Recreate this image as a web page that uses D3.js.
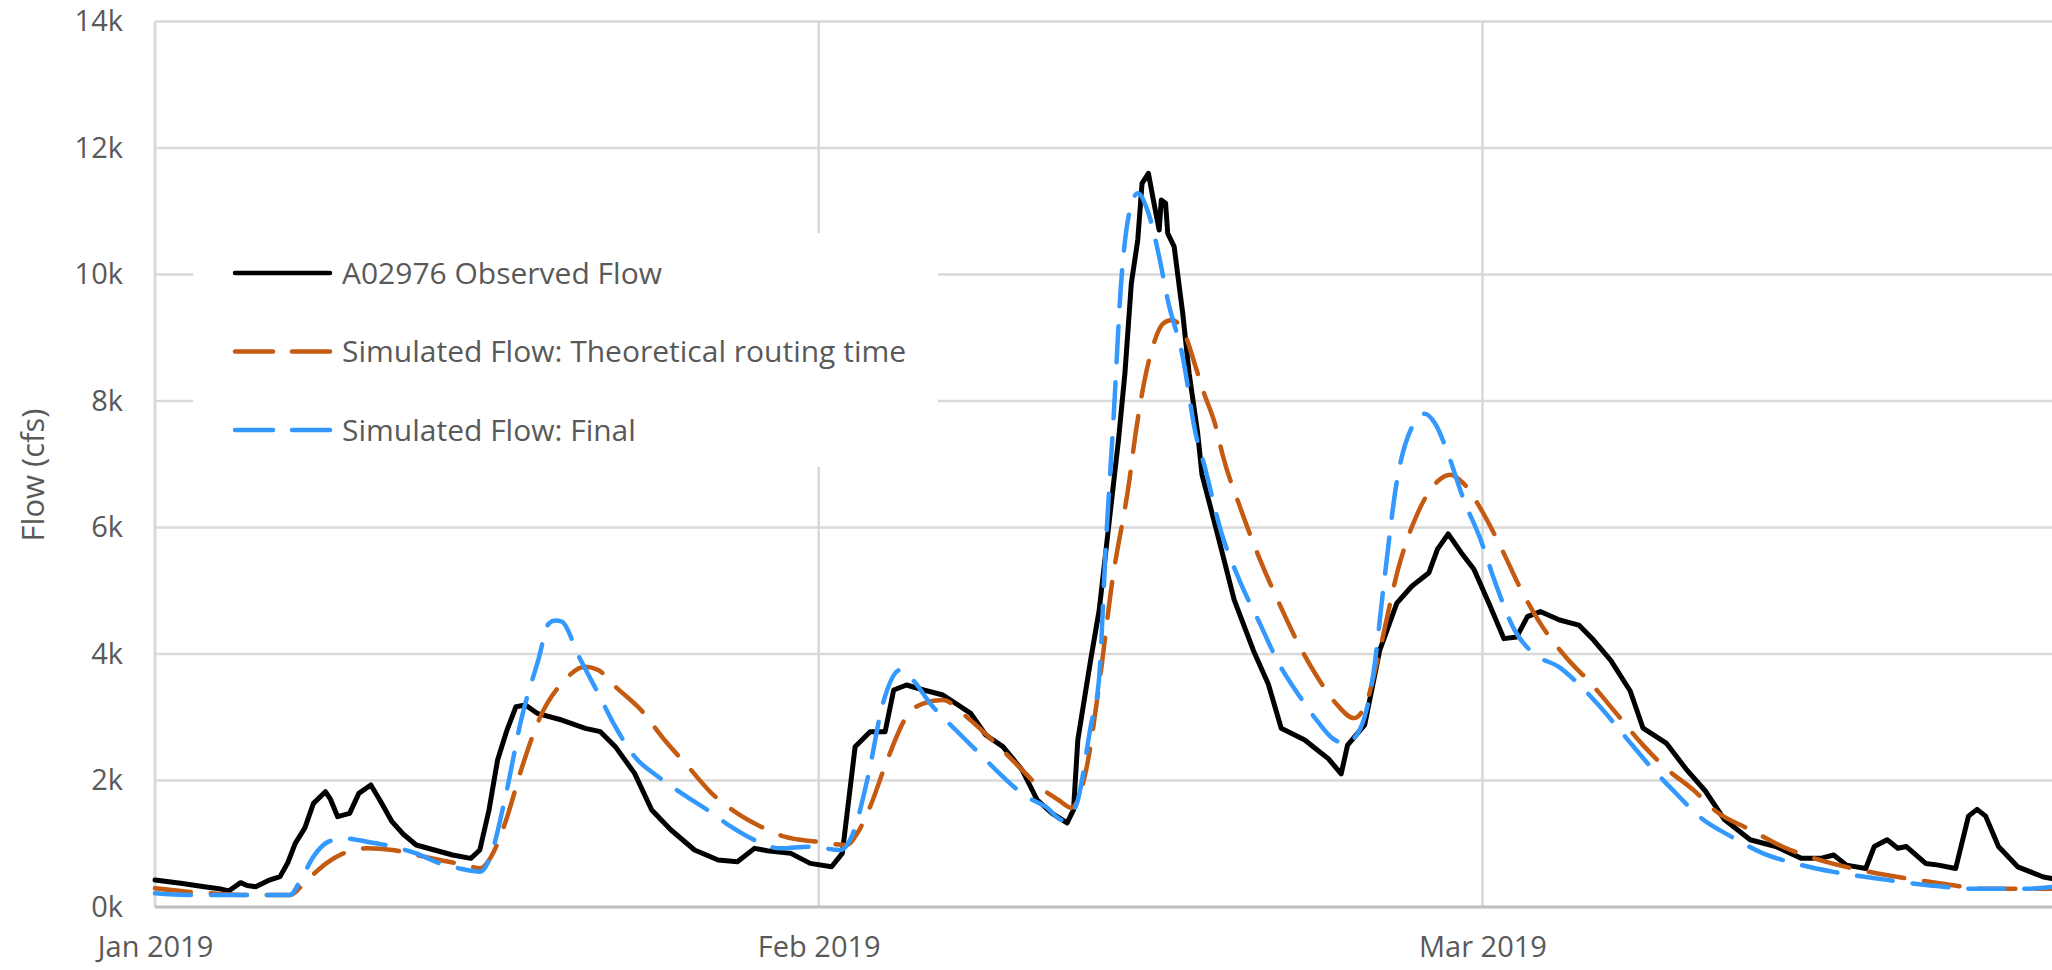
<!DOCTYPE html>
<html lang="en">
	<head>
		<meta charset="utf-8">
		<title>Observed vs simulated flow</title>
		<script type="text/javascript" src="https://cdn.jsdelivr.net/npm/d3@7"></script>
		<style type="text/css">
			body { margin: 0; background: #fff; }
			text { font-family: "Open Sans", "Noto Sans", sans-serif; fill: #595959; }
		</style>
	</head>
	<body>
		<script type="text/javascript">

		var w = 2052;
		var h = 970;

		//axis ticks
		var xTickDays = [0, 31, 62];
		var xTickLabels = ["Jan 2019", "Feb 2019", "Mar 2019"];
		var yTicks = [0, 2000, 4000, 6000, 8000, 10000, 12000, 14000];

		var seriesNames = ["A02976 Observed Flow", "Simulated Flow: Theoretical routing time", "Simulated Flow: Final"];

		//observed flow (days since Jan 1, cfs)
		var obsDays = [0, 1.2, 2.3, 3.0, 3.44, 4.0, 4.3, 4.7, 5.3, 5.84, 6.2, 6.55, 7.0, 7.4, 7.96, 8.2, 8.53, 9.09, 9.52, 10.08,
			10.5, 11.07, 11.6, 12.2, 13.05, 13.9, 14.75, 15.17, 15.6, 16.0, 16.44, 16.86, 17.3, 17.85, 19.0, 20.1, 20.8, 21.5, 22.4, 23.2,
			24.1, 25.2, 26.3, 27.2, 28.0, 28.6, 29.7, 30.6, 31.6, 32.1, 32.7, 33.4, 34.1, 34.5, 35.1, 35.9, 36.8, 38.1, 38.8, 39.6,
			40.5, 41.2, 41.9, 42.6, 42.9, 43.1, 43.7, 44.1, 44.6, 45.0, 45.3, 45.6, 45.9, 46.1, 46.4, 46.6, 46.9, 47.0, 47.2, 47.3,
			47.6, 47.9, 48.0, 48.3, 48.7, 48.9, 49.6, 50.4, 51.3, 52.0, 52.6, 53.7, 54.3, 54.8, 55.4, 55.7, 56.5, 57.2, 58.0, 58.7,
			59.5, 59.9, 60.4, 61.0, 61.6, 62.3, 63.0, 63.6, 64.1, 64.7, 65.6, 66.5, 67.2, 68.0, 68.9, 69.5, 70.6, 71.5, 72.4, 73.3,
			74.5, 75.7, 76.9, 77.8, 78.4, 79.0, 79.9, 80.3, 80.9, 81.4, 81.8, 82.7, 83.3, 84.1, 84.7, 85.1, 85.5, 86.1, 87.0, 88.2, 88.6];
		var obsFlow = [427, 374, 321, 290, 253, 385, 340, 321, 420, 480, 700, 1006, 1250, 1639, 1823, 1700, 1428, 1480, 1797, 1929,
			1692, 1349, 1150, 980, 901, 822, 769, 901, 1534, 2324, 2798, 3167, 3193, 3062, 2956, 2825, 2772, 2535, 2113, 1534,
			1217, 901, 743, 717, 927, 890, 848, 690, 637, 848, 2535, 2772, 2772, 3431, 3510, 3431, 3352, 3062, 2719, 2535,
			2166, 1692, 1480, 1330, 1534, 2640, 3905, 4696, 6194, 7383, 8437, 9860, 10545, 11441, 11599, 11230, 10703, 11177, 11125, 10650,
			10440, 9649, 9386, 8437, 7488, 6836, 5927, 4858, 4056, 3522, 2827, 2640, 2479, 2346, 2105, 2559, 2880, 4056, 4804, 5071,
			5285, 5659, 5900, 5606, 5339, 4804, 4243, 4270, 4590, 4671, 4537, 4457, 4216, 3896, 3415, 2827, 2586, 2185, 1838, 1383,
			1063, 956, 769, 769, 822, 662, 609, 956, 1063, 929, 956, 689, 662, 609, 1437, 1544, 1437, 956, 635, 475, 450];

		//simulated flow, theoretical routing time
		var theoDays = [0, 1.5, 2.6, 4.3, 6.3, 7.1, 8.0, 8.8, 9.9, 11.1, 12.2, 13.3, 14.5, 15.2, 15.7, 16.4, 17.1, 18.0, 19.0, 20.1,
			20.7, 21.5, 22.7, 23.8, 24.9, 26.0, 27.2, 28.3, 29.4, 30.9, 32.3, 32.8, 33.4, 34.2, 35.1, 35.9, 36.8, 37.9, 39.1, 40.2,
			41.3, 42.2, 42.8, 43.5, 44.1, 44.7, 45.5, 45.8, 46.1, 46.6, 47.1, 47.5, 48.0, 48.7, 49.0, 49.5, 49.9, 50.7, 51.6, 52.5,
			53.4, 54.3, 55.2, 56.0, 56.6, 57.2, 58.1, 59.0, 59.9, 60.5, 61.1, 62.0, 62.9, 63.8, 64.7, 65.9, 67.1, 68.3, 69.5, 70.6,
			71.8, 73.0, 74.5, 76.0, 77.5, 79.3, 81.4, 83.5, 85.5, 88.6];
		var theoFlow = [295, 242, 216, 190, 190, 427, 690, 848, 927, 901, 822, 743, 664, 611, 796, 1375, 2166, 3009, 3536, 3800,
			3747, 3483, 3114, 2640, 2219, 1797, 1480, 1270, 1112, 1033, 980, 1165, 1586, 2324, 3009, 3220, 3272, 3009, 2640, 2271,
			1902, 1692, 1570, 2185, 3522, 5125, 6728, 7488, 8118, 8859, 9228, 9280, 9122, 8437, 8118, 7647, 7103, 6301, 5499, 4804,
			4163, 3629, 3201, 2987, 3254, 4056, 5392, 6248, 6728, 6835, 6702, 6248, 5659, 5018, 4484, 3949, 3522, 3041, 2559, 2185,
			1865, 1490, 1223, 956, 769, 609, 475, 368, 288, 288];

		//simulated flow, final
		var finalDays = [0, 1.5, 4.0, 6.3, 6.8, 7.4, 8.1, 8.8, 9.9, 11.1, 12.2, 13.3, 14.2, 15.2, 15.6, 16.4, 17.1, 17.9, 18.4, 18.7,
			19.0, 19.8, 20.7, 21.5, 22.4, 23.5, 24.6, 25.8, 26.9, 28.0, 29.2, 30.6, 32.0, 32.6, 33.3, 34.0, 34.8, 35.4, 36.2, 37.4,
			38.5, 39.6, 40.7, 41.6, 42.4, 43.0, 43.7, 44.1, 44.4, 44.8, 45.1, 45.5, 45.9, 46.4, 46.9, 47.3, 48.0, 48.6, 49.0, 49.8,
			50.7, 51.6, 52.5, 53.4, 54.3, 55.0, 55.6, 56.3, 56.9, 57.4, 58.0, 58.7, 59.3, 59.8, 60.4, 61.1, 61.9, 62.6, 63.5, 64.4,
			65.6, 66.5, 67.4, 68.6, 69.8, 71.0, 72.1, 73.6, 75.1, 76.6, 78.4, 80.5, 82.9, 85.0, 87.3, 88.6];
		var finalFlow = [216, 190, 190, 190, 427, 796, 1033, 1085, 1033, 954, 848, 690, 611, 559, 743, 1797, 2956, 3905, 4485, 4530,
			4511, 3958, 3378, 2851, 2377, 2060, 1797, 1534, 1270, 1059, 927, 954, 901, 1165, 2060, 3220, 3747, 3589, 3220, 2798,
			2429, 2060, 1744, 1586, 1375, 1586, 2851, 3642, 5659, 7910, 9754, 10967, 11283, 10967, 10281, 9597, 8700, 7488, 6996, 5927,
			5125, 4484, 3842, 3361, 2934, 2666, 2586, 2827, 3682, 5125, 6728, 7584, 7798, 7637, 7156, 6461, 5820, 5125, 4377, 4003,
			3789, 3522, 3201, 2720, 2239, 1811, 1437, 1116, 849, 689, 555, 448, 341, 288, 288, 315];

		var series = [
			{ name: seriesNames[0], days: obsDays, flow: obsFlow, color: "#000000", dash: null, width: 5, curve: d3.curveLinear },
			{ name: seriesNames[1], days: theoDays, flow: theoFlow, color: "#c55a11", dash: "36,20", width: 4.5, curve: d3.curveMonotoneX },
			{ name: seriesNames[2], days: finalDays, flow: finalFlow, color: "#3399ff", dash: "36,20", width: 4.5, curve: d3.curveMonotoneX }
		];

		//plot area edges (pixels)
		var plotLeft = 155, plotRight = 2052, plotTop = 21.5, plotBottom = 907;

		var xScale = d3.scaleLinear()
						.domain([0, 88.6])
						.range([plotLeft, plotRight]);

		var yScale = d3.scaleLinear()
						.domain([0, 14000])
						.range([plotBottom, plotTop]);

		var svg = d3.select("body")
					.append("svg")
					.attr("width", w)
					.attr("height", h);

		//horizontal gridlines
		svg.append("g")
			.selectAll("line")
			.data(yTicks.slice(1))
			.enter()
			.append("line")
			.attr("x1", plotLeft)
			.attr("x2", plotRight)
			.attr("y1", function(d) { return yScale(d); })
			.attr("y2", function(d) { return yScale(d); })
			.attr("stroke", "#d9d9d9")
			.attr("stroke-width", 2.5);

		//vertical gridlines
		svg.append("g")
			.selectAll("line")
			.data(xTickDays.slice(1))
			.enter()
			.append("line")
			.attr("x1", function(d) { return xScale(d); })
			.attr("x2", function(d) { return xScale(d); })
			.attr("y1", plotTop)
			.attr("y2", plotBottom)
			.attr("stroke", "#d9d9d9")
			.attr("stroke-width", 2.5);

		//left axis line
		svg.append("line")
			.attr("x1", plotLeft).attr("x2", plotLeft)
			.attr("y1", plotTop).attr("y2", plotBottom)
			.attr("stroke", "#d9d9d9")
			.attr("stroke-width", 3);

		//y axis
		var yAxis = d3.axisLeft(yScale)
						.tickValues(yTicks)
						.tickSize(0)
						.tickPadding(32)
						.tickFormat(function(d) { return (d / 1000) + "k"; });

		var gy = svg.append("g")
					.attr("transform", "translate(" + plotLeft + ",0)")
					.call(yAxis);
		gy.select(".domain").remove();
		gy.selectAll("text")
			.attr("font-size", 29)
			.attr("font-family", null)
			.attr("fill", "#595959");

		//x axis
		var xAxis = d3.axisBottom(xScale)
						.tickValues(xTickDays)
						.tickSize(0)
						.tickPadding(29)
						.tickFormat(function(d, i) { return xTickLabels[i]; });

		var gx = svg.append("g")
					.attr("transform", "translate(0," + plotBottom + ")")
					.call(xAxis);
		gx.select(".domain").remove();
		gx.selectAll("text")
			.attr("font-size", 29)
			.attr("font-family", null)
			.attr("fill", "#595959");

		//bottom axis line
		svg.append("line")
			.attr("x1", plotLeft).attr("x2", plotRight)
			.attr("y1", plotBottom).attr("y2", plotBottom)
			.attr("stroke", "#bfbfbf")
			.attr("stroke-width", 3);

		//y axis title
		svg.append("text")
			.attr("transform", "translate(44,475) rotate(-90)")
			.attr("text-anchor", "middle")
			.attr("font-size", 31)
			.text("Flow (cfs)");

		//lines
		series.forEach(function(s) {
			var pts = s.days.map(function(d, i) { return [d, s.flow[i]]; });
			var line = d3.line()
						.x(function(d) { return xScale(d[0]); })
						.y(function(d) { return yScale(d[1]); })
						.curve(s.curve);
			svg.append("path")
				.datum(pts)
				.attr("d", line)
				.attr("fill", "none")
				.attr("stroke", s.color)
				.attr("stroke-width", s.width)
				.attr("stroke-linejoin", "round")
				.attr("stroke-linecap", "round")
				.attr("stroke-dasharray", s.dash);
		});

		//legend
		var legend = svg.append("g");
		legend.append("rect")
			.attr("x", 193)
			.attr("y", 233)
			.attr("width", 745)
			.attr("height", 234)
			.attr("fill", "#ffffff");

		var rows = legend.selectAll("g.row")
						.data(series)
						.enter()
						.append("g")
						.attr("class", "row")
						.attr("transform", function(d, i) { return "translate(0," + (273 + i * 78.5) + ")"; });

		rows.append("line")
			.attr("x1", 235)
			.attr("x2", 330)
			.attr("stroke", function(d) { return d.color; })
			.attr("stroke-width", 4.5)
			.attr("stroke-linecap", "round")
			.attr("stroke-dasharray", function(d) { return d.dash ? "38,19" : null; });

		rows.append("text")
			.attr("x", 342)
			.attr("dy", "0.35em")
			.attr("font-size", 30)
			.text(function(d) { return d.name; });

		</script>
	</body>
</html>
